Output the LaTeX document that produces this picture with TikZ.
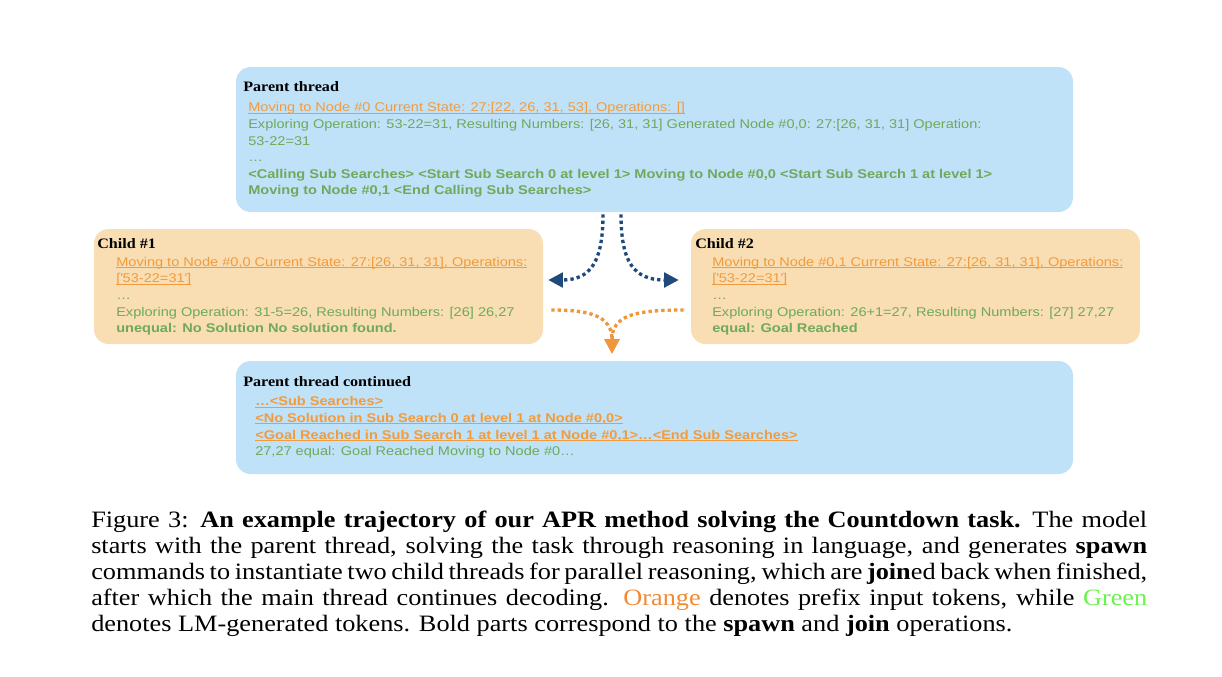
\documentclass[tikz,border=0pt]{standalone}
\usepackage{fontspec}
\setmainfont{Liberation Serif}[FakeStretch=1.12]
\setsansfont{Liberation Sans}[FakeStretch=1.15]
\usetikzlibrary{arrows.meta,fit,calc}

\definecolor{threadblue}{HTML}{BFE2F8}
\definecolor{childpeach}{HTML}{F8DEB2}
\definecolor{prefixorange}{HTML}{F29B3C}
\definecolor{lmgreen}{HTML}{6FA95B}
\definecolor{spawnblue}{HTML}{1F4A7A}
\definecolor{joinorange}{HTML}{F0953A}
\definecolor{capgreen}{HTML}{6AF24E}
\definecolor{caporange}{HTML}{F28A32}

\newsavebox{\prefixbox}
\newcommand{\prefixtok}[1]{\textcolor{prefixorange}{%
  \sbox{\prefixbox}{#1}\rlap{\rule[-1.3pt]{\wd\prefixbox}{0.6pt}}\usebox{\prefixbox}}}
\newcommand{\apos}{\textquotesingle}

\begin{document}
\begin{tikzpicture}[
  x=0.75pt,y=-0.75pt,
  threadbox/.style={rounded corners=11pt, inner sep=0pt, fill=threadblue},
  childbox/.style={threadbox, fill=childpeach},
  threadtitle/.style={font=\fontsize{10.8}{13}\selectfont\bfseries,
                      anchor=base west, inner sep=0pt},
  tokens/.style={font=\sffamily\fontsize{9.5}{12.4}\selectfont, text=lmgreen,
                 align=left, anchor=north west, inner sep=0pt},
  spawn/.style={draw=spawnblue, line width=2.5pt, dash pattern=on 2.5pt off 2.3pt,
                -{Triangle[length=11pt,width=11pt]}},
  joinarrow/.style={spawn, draw=joinorange},
  caption/.style={font=\fontsize{17.6}{19.5}\selectfont, text width=792pt,
                  align=justify, inner sep=0pt, anchor=base west}
]
\useasboundingbox (0,0) rectangle (1222,676);

% boxes
\node[threadbox, fit={(236,67) (1073,212)}] (parent) {};
\node[childbox, fit={(94,229) (543,344)}] (child1) {};
\node[childbox, fit={(691,229) (1140,344)}] (child2) {};
\node[threadbox, fit={(236,361) (1073,474)}] (cont) {};

% parent thread
\node[threadtitle] (parentTitle) at (243,91) {Parent thread};
\node[tokens] (parentText) at (248,102.5) {%
  \prefixtok{Moving to Node \#0 Current State: 27:[22, 26, 31, 53], Operations: []}\\
  Exploring Operation: 53-22=31, Resulting Numbers: [26, 31, 31] Generated Node \#0,0: 27:[26, 31, 31] Operation:\\
  53-22=31\\
  …\\
  \textbf{<Calling Sub Searches> <Start Sub Search 0 at level 1> Moving to Node \#0,0 <Start Sub Search 1 at level 1>}\\
  \textbf{Moving to Node \#0,1 <End Calling Sub Searches>}};

% children
\node[threadtitle] (child1Title) at (97,248.5) {Child \#1};
\node[tokens] (child1Text) at (116,257) {%
  \prefixtok{Moving to Node \#0,0 Current State: 27:[26, 31, 31], Operations:}\\
  \prefixtok{[\apos53-22=31\apos]}\\
  …\\
  Exploring Operation: 31-5=26, Resulting Numbers: [26] 26,27\\
  \textbf{unequal: No Solution No solution found.}};

\node[threadtitle] (child2Title) at (695,248.5) {Child \#2};
\node[tokens] (child2Text) at (712,257) {%
  \prefixtok{Moving to Node \#0,1 Current State: 27:[26, 31, 31], Operations:}\\
  \prefixtok{[\apos53-22=31\apos]}\\
  …\\
  Exploring Operation: 26+1=27, Resulting Numbers: [27] 27,27\\
  \textbf{equal: Goal Reached}};

% parent continued
\node[threadtitle] (contTitle) at (243,386) {Parent thread continued};
\node[tokens] (contText) at (255,396.5) {%
  \prefixtok{\textbf{…<Sub Searches>}}\\
  \prefixtok{\textbf{<No Solution in Sub Search 0 at level 1 at Node \#0,0>}}\\
  \prefixtok{\textbf{<Goal Reached in Sub Search 1 at level 1 at Node \#0,1>…<End Sub Searches>}}\\
  27,27 equal: Goal Reached Moving to Node \#0…};

% spawn and join
\coordinate (spawnL) at ($(parent.south)+(-51.5,2)$);
\coordinate (spawnR) at ($(parent.south)+(-33.5,2)$);
\coordinate (tipL) at ($(child1.east)+(5,-6.5)$);
\coordinate (tipR) at ($(child2.west)+(-12,-6.5)$);
\coordinate (joinL) at ($(child1.east)+(8,23.5)$);
\coordinate (joinR) at ($(child2.west)+(-7,23.5)$);
\coordinate (tipJ) at ($(cont.north)+(-42.5,-7)$);

\draw[spawn] (spawnL) .. controls +(0,48) and +(42,0) .. (tipL);
\draw[spawn] (spawnR) .. controls +(0,48) and +(-45,0) .. (tipR);
\draw[joinarrow] (joinL) .. controls +(39,0) and +(0,-38) .. (tipJ);
\draw[joinarrow] (joinR) .. controls +(-50,0) and +(0,-38) .. (tipJ);

% caption
\node[caption] (caption) at (91,527.5) {%
  Figure 3:\enspace\textbf{An example trajectory of our APR method solving the Countdown task.}\enspace The model\linebreak
  starts with the parent thread, solving the task through reasoning in language, and generates \textbf{spawn}\linebreak
  commands to instantiate two child threads for parallel reasoning, which are \textbf{join}ed back when finished,\linebreak
  after which the main thread continues decoding. \textcolor{caporange}{Orange} denotes prefix input tokens, while \textcolor{capgreen}{Green}\linebreak
  denotes LM-generated tokens. Bold parts correspond to the \textbf{spawn} and \textbf{join} operations.};
\end{tikzpicture}
\end{document}
